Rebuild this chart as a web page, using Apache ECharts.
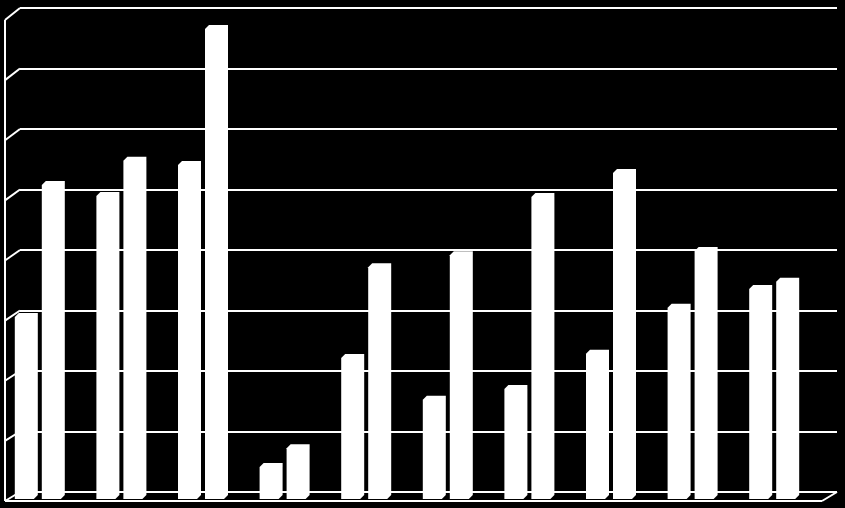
<!DOCTYPE html>
<html>
<head>
<meta charset="utf-8">
<style>
  html, body { margin: 0; padding: 0; background: #000; }
  #main { width: 845px; height: 508px; }
</style>
<script src="https://cdn.jsdelivr.net/npm/echarts@6/dist/echarts.min.js"></script>
</head>
<body>
<div id="main"></div>
<script>
// data (in gridline units, no labels on the original)
var categories = ['1', '2', '3', '4', '5', '6', '7', '8', '9', '10'];
var series1 = [3.01, 5.01, 5.52, 0.53, 2.33, 1.64, 1.82, 2.40, 3.16, 3.47];
var series2 = [5.19, 5.59, 7.77, 0.84, 3.83, 4.03, 4.99, 5.39, 4.10, 3.59];
var yMax = 8;

var chart = echarts.init(document.getElementById('main'));

// depth of the 3d box, back wall -> front edge
var wallDx = 15;
var barDepth = 4;
var barWidth = 19;

// back wall, side wall and floor outline
function frameItem(params, api) {
    var lines = [];
    var lineStyle = { stroke: '#fff', lineWidth: 2 };
    var bottom = api.coord([0, 0]);
    var bottomRight = api.coord([1, 0]);
    var topLeft = api.coord([0, yMax]);
    for (var k = 0; k <= yMax; k++) {
        var p = api.coord([0, k]);
        var dy = 9 + 3 * k / yMax;
        lines.push({
            type: 'line',
            shape: { x1: p[0] - wallDx, y1: p[1] + dy, x2: p[0], y2: p[1] },
            style: lineStyle
        });
    }
    var fx = bottom[0] - wallDx;
    var fy = bottom[1] + 9;
    lines.push({ type: 'line', shape: { x1: fx, y1: topLeft[1] + 12, x2: fx, y2: fy }, style: lineStyle });
    lines.push({ type: 'line', shape: { x1: fx, y1: fy, x2: bottomRight[0] - wallDx, y2: fy }, style: lineStyle });
    lines.push({ type: 'line', shape: { x1: bottomRight[0] - wallDx, y1: fy, x2: bottomRight[0], y2: bottomRight[1] }, style: lineStyle });
    return { type: 'group', children: lines };
}

// white 3d column: front face + top + right side
function barItem(offset) {
    return function (params, api) {
        var i = api.value(0);
        var base = api.coord([i, 0]);
        var top = api.coord([i, api.value(1)]);
        var x = base[0] + offset;
        var d = barDepth;
        return {
            type: 'polygon',
            shape: {
                points: [
                    [x, base[1]],
                    [x, top[1]],
                    [x + d, top[1] - d],
                    [x + barWidth + d, top[1] - d],
                    [x + barWidth + d, base[1] - d],
                    [x + barWidth, base[1]]
                ]
            },
            style: { fill: '#fff' }
        };
    };
}

var option = {
    backgroundColor: '#000',
    animation: false,
    grid: [
        { left: 20, top: 8, width: 817, height: 484 },
        { left: 0, top: 15, width: 816, height: 484 }
    ],
    xAxis: [
        { gridIndex: 0, type: 'value', min: 0, max: 1, show: false },
        { gridIndex: 1, type: 'category', data: categories, show: false }
    ],
    yAxis: [
        {
            gridIndex: 0, type: 'value', min: 0, max: yMax, interval: 1,
            axisLine: { show: false }, axisTick: { show: false }, axisLabel: { show: false },
            splitLine: { show: true, lineStyle: { color: '#fff', width: 2 } }
        },
        { gridIndex: 1, type: 'value', min: 0, max: yMax, interval: 1, show: false, splitLine: { show: false } }
    ],
    series: [
        {
            type: 'custom', xAxisIndex: 0, yAxisIndex: 0, z: 1,
            renderItem: frameItem, data: [[0, 0]], silent: true
        },
        {
            name: 'series1', type: 'custom', xAxisIndex: 1, yAxisIndex: 1, z: 3,
            renderItem: barItem(-26),
            data: series1.map(function (v, i) { return [i, v]; })
        },
        {
            name: 'series2', type: 'custom', xAxisIndex: 1, yAxisIndex: 1, z: 3,
            renderItem: barItem(1),
            data: series2.map(function (v, i) { return [i, v]; })
        }
    ]
};

chart.setOption(option);
</script>
</body>
</html>
